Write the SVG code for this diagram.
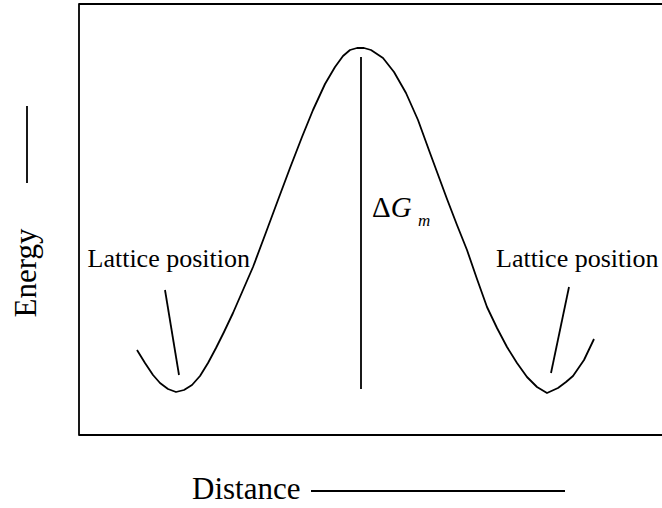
<svg xmlns="http://www.w3.org/2000/svg" width="662" height="508" viewBox="0 0 662 508">
<style>
.ln{fill:none;stroke:#000;stroke-width:1.8;stroke-linejoin:round;stroke-linecap:butt}
.t{font-family:"Liberation Serif","Times New Roman",serif;fill:#000}
</style>
<rect x="0" y="0" width="662" height="508" fill="#fff"/>
<g id="frame">
<rect x="79" y="4" width="620" height="431" class="ln" stroke-width="2"/>
</g>
<g id="curve">
<polyline class="ln" points="137,350 145,363 153,375 160,383 168,389 176,392 184,390 192,385 200,376 208,363 216,348 224,332 233,313 243,290 253,267 265,235 278,200 290,168 302,137 313,110 325,84 335,67 343,56 350,50 357,48 364,48 371,50 383,58 394,72 406,93 418,120 430,153 447,199 457,225 467,250 477,279 487,307 497,328 507,347 517,363 527,377 537,387 547,393 558,388 566,382 573,376 584,360 594,339"/>
</g>
<g id="barrier">
<line class="ln" x1="361" y1="57" x2="361" y2="389"/>
<text class="t" x="372" y="217" font-size="29">Δ<tspan font-style="italic">G</tspan></text>
<text class="t" x="418" y="226" font-size="17" font-style="italic">m</text>
</g>
<g id="lattice-left">
<text class="t" x="250" y="267" font-size="26" text-anchor="end">Lattice position</text>
<line class="ln" x1="165" y1="290" x2="179" y2="375"/>
</g>
<g id="lattice-right">
<text class="t" x="496" y="267" font-size="26">Lattice position</text>
<line class="ln" x1="569" y1="287" x2="551" y2="373"/>
</g>
<g id="axis-energy">
<line class="ln" x1="27" y1="106" x2="27" y2="183"/>
<text class="t" font-size="31" text-anchor="middle" transform="translate(36,273) rotate(-90)">Energy</text>
</g>
<g id="axis-distance">
<text class="t" x="192" y="499" font-size="31">Distance</text>
<line class="ln" x1="311" y1="491" x2="565" y2="491" stroke-width="2"/>
</g>
</svg>
